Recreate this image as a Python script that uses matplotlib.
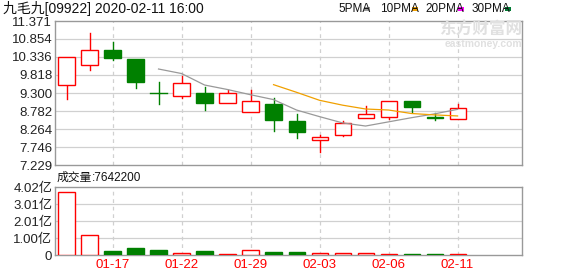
import matplotlib as mpl
from matplotlib import pyplot as plt
from matplotlib.patches import Rectangle
import numpy as np

mpl.rcParams["font.family"] = ["Liberation Sans", "Noto Sans CJK SC", "DejaVu Sans"]

# daily k-line
dates = ["01-15", "01-16", "01-17", "01-20", "01-21", "01-22", "01-23", "01-24", "01-29",
         "01-30", "01-31", "02-03", "02-04", "02-05", "02-06", "02-07", "02-10", "02-11"]
opens = [9.53, 10.10, 10.55, 10.29, 9.30, 9.21, 9.31, 9.01, 8.75,
         8.99, 8.50, 7.95, 8.09, 8.58, 8.61, 9.08, 8.61, 8.56]
closes = [10.34, 10.54, 10.30, 9.62, 9.30, 9.59, 9.00, 9.30, 9.08,
          8.51, 8.17, 8.03, 8.44, 8.69, 9.07, 8.89, 8.58, 8.87]
highs = [10.34, 11.04, 10.76, 10.29, 9.61, 9.80, 9.47, 9.40, 9.38,
         9.17, 8.69, 8.08, 8.49, 8.93, 9.07, 9.08, 8.72, 8.99]
lows = [9.13, 9.95, 10.24, 9.45, 8.98, 9.15, 8.81, 9.01, 8.75,
        8.22, 8.00, 7.60, 8.05, 8.58, 8.55, 8.76, 8.53, 8.56]
volumes = [3.75e8, 1.17e8, 0.254e8, 0.43e8, 0.31e8, 0.137e8, 0.254e8, 0.078e8, 0.31e8,
           0.195e8, 0.195e8, 0.137e8, 0.137e8, 0.137e8, 0.078e8, 0.078e8, 0.078e8, 0.0764e8]

ma5 = [None, None, None, None, 9.99, 9.86, 9.53, 9.40, 9.25,
       9.11, 8.81, 8.62, 8.44, 8.35, 8.47, 8.59, 8.70, 8.83]
ma10 = [None] * 9 + [9.54, 9.32, 9.09, 8.95, 8.84, 8.81, 8.71, 8.67, 8.64]

price_ticks = [7.229, 7.746, 8.264, 8.782, 9.300, 9.818, 10.336, 10.854, 11.371]
vol_ticks = [0, 1.00e8, 2.01e8, 3.01e8, 4.02e8]
vol_labels = ["0", "1.00亿", "2.01亿", "3.01亿", "4.02亿"]
tick_idx = [2, 5, 8, 11, 14, 17]

red = "#ff0000"
green = "#008000"
frame = "#999999"
grid = "#d0d0d0"

fig = plt.figure(figsize=(5.78, 2.76), dpi=100)
ax = fig.add_axes([55/578, 111/276, 467/578, 144/276])
axv = fig.add_axes([55/578, 21/276, 467/578, 68/276])

x = np.arange(len(dates))
w = 0.7

for i in x:
    o, c, h, l = opens[i], closes[i], highs[i], lows[i]
    col = red if c > o else green
    top, bot = max(o, c), min(o, c)
    ax.plot([i, i], [top, h], color=col, lw=1.0, zorder=3)
    ax.plot([i, i], [l, bot], color=col, lw=1.0, zorder=3)
    if c == o:
        ax.plot([i - w/2, i + w/2], [o, o], color=col, lw=1.0, zorder=3)
    elif c > o:
        ax.add_patch(Rectangle((i - w/2, bot), w, top - bot, facecolor="white",
                               edgecolor=col, lw=1.0, zorder=4))
    else:
        ax.add_patch(Rectangle((i - w/2, bot), w, top - bot, facecolor=col,
                               edgecolor=col, lw=1.0, zorder=4))

m5 = [np.nan if v is None else v for v in ma5]
m10 = [np.nan if v is None else v for v in ma10]
ax.plot(x, m5, color="#999999", lw=0.9, zorder=5)
ax.plot(x, m10, color="#f0a000", lw=0.9, zorder=5)

for i in x:
    v = volumes[i]
    if closes[i] > opens[i]:
        axv.add_patch(Rectangle((i - w/2, 0), w, v, facecolor="white", edgecolor=red,
                                lw=1.0, zorder=3))
    else:
        axv.add_patch(Rectangle((i - w/2, 0), w, v, facecolor=green, edgecolor=green,
                                lw=1.0, zorder=3))

for a in (ax, axv):
    a.set_xlim(-0.5, 19.8)
    for s in a.spines.values():
        s.set_color(frame)
        s.set_linewidth(1.0)
    for i in tick_idx:
        a.axvline(i, color=grid, lw=0.9, ls=(0, (3, 3)), zorder=1)
    a.tick_params(length=0, labelsize=9.5, colors="#222222", pad=2)

ax.set_ylim(price_ticks[0], price_ticks[-1])
ax.set_yticks(price_ticks)
ax.set_yticklabels(["%.3f" % t for t in price_ticks])
ax.set_xticks([])
for t in price_ticks[1:-1]:
    ax.axhline(t, color=grid, lw=0.9, zorder=1)

axv.set_ylim(0, 4.02e8)
axv.set_yticks(vol_ticks)
axv.set_yticklabels(vol_labels)
for t in vol_ticks[1:-1]:
    axv.axhline(t, color=grid, lw=0.9, zorder=1)
axv.set_xticks(tick_idx)
axv.set_xticklabels([dates[i] for i in tick_idx], fontsize=9.5)
axv.tick_params(axis="x", pad=3, labelcolor=red)

fig.text(3/578, 1 - 9/276, "九毛九[09922] 2020-02-11 16:00", fontsize=10,
         va="center", ha="left", color="#111111")

# legend: label text, then a small colour block
legend_items = [("5PMA", "#999999", 338, 364), ("10PMA", "#f0a000", 380, 412),
                ("20PMA", "#ff00ff", 425, 458), ("30PMA", "#007a33", 472, 505)]
for label, col, px, mx in legend_items:
    fig.text(px/578, 1 - 9/276, label, fontsize=8.5, va="center", ha="left",
             color="#111111")
    fig.add_artist(Rectangle((mx/578, 1 - 11/276), 6/578, 4/276, facecolor=col,
                             edgecolor="none", transform=fig.transFigure))

fig.text(522/578, 1 - 30/276, "东方财富网", fontsize=12, ha="right", va="center",
         color="#e0e0e0", weight="bold")
fig.text(522/578, 1 - 44/276, "eastmoney.com", fontsize=7.5, ha="right", va="center",
         color="#e0e0e0", weight="bold")

fig.text(57/578, 1 - 178/276, "成交量", fontsize=8.5, ha="left", va="center",
         color="#111111")
fig.text(92/578, 1 - 178/276, ":7642200", fontsize=8.5, ha="left", va="center",
         color="#111111")

plt.savefig("out.png", dpi=100)
